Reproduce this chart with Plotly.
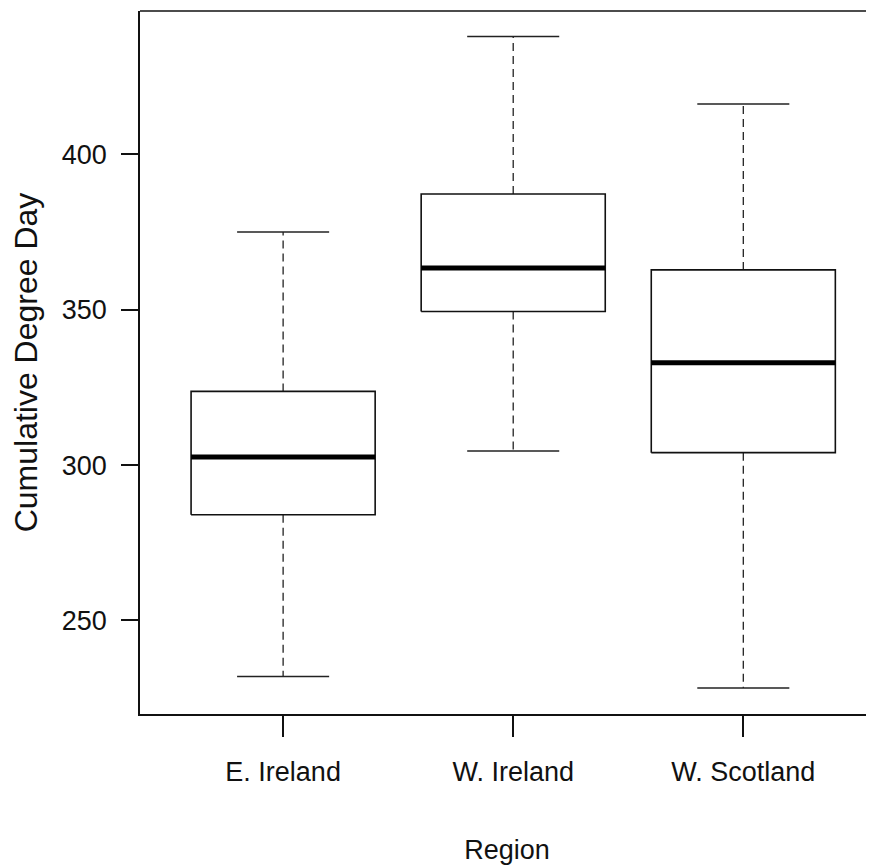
import plotly.graph_objects as go

regions = ["E. Ireland", "W. Ireland", "W. Scotland"]
lower_whisker = [232.0, 304.5, 228.3]
q1 = [284.0, 349.4, 304.0]
median = [302.6, 363.4, 332.9]
q3 = [323.7, 387.2, 362.8]
upper_whisker = [375.0, 437.9, 416.2]
y_ticks = [250, 300, 350, 400]

BOX_HALF = 0.4
CAP_HALF = 0.2
positions = [1, 2, 3]

fig = go.Figure()
for i, x in enumerate(positions):
    # dashed whiskers
    fig.add_trace(go.Scatter(
        x=[x, x, None, x, x],
        y=[q3[i], upper_whisker[i], None, q1[i], lower_whisker[i]],
        mode="lines", line=dict(color="#222222", width=1.3, dash="8px,5px"),
        hoverinfo="skip", showlegend=False))
    # caps
    fig.add_trace(go.Scatter(
        x=[x - CAP_HALF, x + CAP_HALF, None, x - CAP_HALF, x + CAP_HALF],
        y=[upper_whisker[i], upper_whisker[i], None, lower_whisker[i], lower_whisker[i]],
        mode="lines", line=dict(color="#222222", width=1.5),
        hoverinfo="skip", showlegend=False))
    # box
    fig.add_trace(go.Scatter(
        x=[x - BOX_HALF, x + BOX_HALF, x + BOX_HALF, x - BOX_HALF, x - BOX_HALF],
        y=[q1[i], q1[i], q3[i], q3[i], q1[i]],
        mode="lines", line=dict(color="#111111", width=1.6),
        fill="toself", fillcolor="white",
        hoverinfo="skip", showlegend=False))
    # median
    fig.add_trace(go.Scatter(
        x=[x - BOX_HALF, x + BOX_HALF], y=[median[i], median[i]],
        mode="lines", line=dict(color="black", width=5),
        hoverinfo="skip", showlegend=False))

tick_font = dict(family="Liberation Sans, Arial", size=27, color="#111111")

fig.update_layout(
    width=866, height=858,
    margin=dict(l=132, r=0, t=3, b=152),
    paper_bgcolor="white", plot_bgcolor="white",
    xaxis=dict(
        range=[0.378, 3.568], tickmode="array", tickvals=positions, ticktext=regions,
        showgrid=False, zeroline=False, showline=True, linecolor="#111111", linewidth=1.5,
        ticks="outside", ticklen=21, tickwidth=1.5, tickcolor="#111111",
        tickfont=tick_font, ticklabelstandoff=12,
        title=dict(text="Region", font=tick_font, standoff=54),
    ),
    yaxis=dict(
        range=[219.9, 446.1], tickmode="array", tickvals=y_ticks,
        ticktext=[str(v) for v in y_ticks],
        showgrid=False, zeroline=False, showline=True, linecolor="#111111", linewidth=1.5,
        ticks="outside", ticklen=17, tickwidth=1.5, tickcolor="#111111",
        tickfont=tick_font, ticklabelstandoff=9,
        title=dict(text="Cumulative Degree Day",
                   font=dict(family="Liberation Sans, Arial", size=32, color="#111111"),
                   standoff=18),
    ),
    shapes=[dict(type="line", xref="paper", yref="paper", x0=0, x1=1, y0=1, y1=1,
                 line=dict(color="#111111", width=1.5))],
)

fig.write_html("out.html")
